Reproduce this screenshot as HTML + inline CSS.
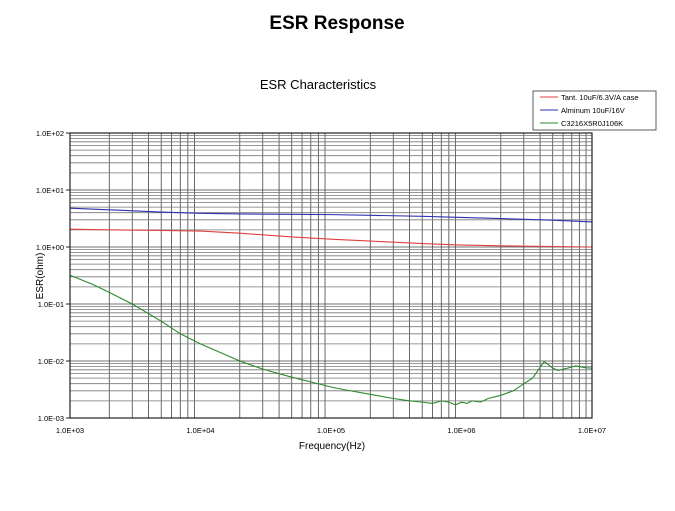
<!DOCTYPE html>
<html><head><meta charset="utf-8"><style>
body{margin:0;background:#fff;}
svg text{font-family:"Liberation Sans",Arial,sans-serif;}
</style></head><body>
<svg width="675" height="506" xmlns="http://www.w3.org/2000/svg">
<text x="337" y="29" text-anchor="middle" font-size="19" font-weight="bold">ESR Response</text>
<text x="318" y="89" text-anchor="middle" font-size="13">ESR Characteristics</text>
<g id="grid"></g>
<g id="series"></g>
<g id="axes"></g>
<text x="332" y="449" text-anchor="middle" font-size="10">Frequency(Hz)</text>
<text x="0" y="0" transform="translate(43,276) rotate(-90)" text-anchor="middle" font-size="10">ESR(ohm)</text>
<g>
<rect x="533" y="91" width="123" height="39" fill="#fff" stroke="#333" stroke-width="0.8"/>
<g><line x1="540" x2="558" y1="97" y2="97" stroke="#e04040"/><text x="561" y="100" font-size="7.5">Tant. 10uF/6.3V/A case</text></g>
<g><line x1="540" x2="558" y1="110" y2="110" stroke="#3030b0"/><text x="561" y="113" font-size="7.5">Alminum 10uF/16V</text></g>
<g><line x1="540" x2="558" y1="123" y2="123" stroke="#2a8a2a"/><text x="561" y="126" font-size="7.5">C3216X5R0J106K</text></g>
</g>
</svg>
<script>
const xTicks=["1.0E+03","1.0E+04","1.0E+05","1.0E+06","1.0E+07"];
const yTicks=["1.0E-03","1.0E-02","1.0E-01","1.0E+00","1.0E+01","1.0E+02"];
const tantF=[1e3,2e3,5e3,1e4,2e4,5e4,1e5,2e5,5e5,1e6,2e6,5e6,1e7];
const tantV=[2.05,2.0,1.95,1.9,1.75,1.5,1.37,1.27,1.15,1.08,1.05,1.02,1.0];
const alumF=[1e3,2e3,5e3,1e4,2e4,5e4,1e5,2e5,5e5,1e6,2e6,5e6,1e7];
const alumV=[4.8,4.5,4.1,3.9,3.8,3.75,3.7,3.6,3.45,3.3,3.15,2.95,2.75];
const mlccF=[1e3,1.5e3,2e3,3e3,5e3,7e3,1e4,2e4,3e4,5e4,7e4,1e5,1.3e5,2e5,3e5,4e5,5e5,6e5,7e5,8e5,9e5,1e6,1.1e6,1.2e6,1.4e6,1.6e6,2e6,2.5e6,3e6,3.5e6,4.3e6,5e6,5.5e6,6.5e6,7.5e6,9e6,1e7];
const mlccV=[0.32,0.22,0.16,0.1,0.05,0.03,0.02,0.01,0.0072,0.0052,0.0043,0.0035,0.0031,0.0026,0.0022,0.002,0.0019,0.0018,0.002,0.0019,0.0017,0.0019,0.0018,0.002,0.0019,0.0022,0.0025,0.003,0.004,0.005,0.0098,0.0075,0.0068,0.0075,0.0082,0.0076,0.0075];
const L=70,R=592,T=133,B=418;
const xs=f=>L+(Math.log10(f)-3)/4*(R-L);
const ys=v=>B-(Math.log10(v)+3)/5*(B-T);
const NS="http://www.w3.org/2000/svg";
function mk(tag,attrs,parent){const e=document.createElementNS(NS,tag);for(const k in attrs)e.setAttribute(k,attrs[k]);parent.appendChild(e);return e;}
const grid=document.getElementById('grid');
for(let d=3;d<7;d++)for(let m=2;m<10;m++){const x=xs(m*Math.pow(10,d));const l=mk('line',{x1:x,x2:x,y1:T,y2:B,stroke:'#444','stroke-width':0.8},grid);

}
for(let d=-3;d<2;d++)for(let m=1;m<10;m++){const y=ys(m*Math.pow(10,d));const l=mk('line',{x1:L,x2:R,y1:y,y2:y,stroke:m==1?'#444':'#777','stroke-width':0.8},grid);

}
const axes=document.getElementById('axes');
mk('rect',{x:L,y:T,width:R-L,height:B-T,fill:'none',stroke:'#222','stroke-width':1.2},axes);
xTicks.forEach((t,i)=>{const x=L+i*(R-L)/4;const e=mk('text',{x:x,y:433,'text-anchor':'middle','font-size':7.5},axes);e.textContent=t;

});
yTicks.forEach((t,i)=>{const y=B-i*(B-T)/5;mk('line',{x1:L-4,x2:L,y1:y,y2:y,stroke:'#222'},axes);const e=mk('text',{x:L-6,y:y+3,'text-anchor':'end','font-size':7.5},axes);e.textContent=t;

});
const ser=document.getElementById('series');
function line(F,V,c,n){const p=mk('polyline',{points:F.map((f,i)=>xs(f)+','+ys(V[i])).join(' '),fill:'none',stroke:c,'stroke-width':1.1},ser);

}
line(tantF,tantV,'#e04040','tant-line');
line(alumF,alumV,'#3030b0','alum-line');
line(mlccF,mlccV,'#2a8a2a','mlcc-line');
</script>
</body></html>
